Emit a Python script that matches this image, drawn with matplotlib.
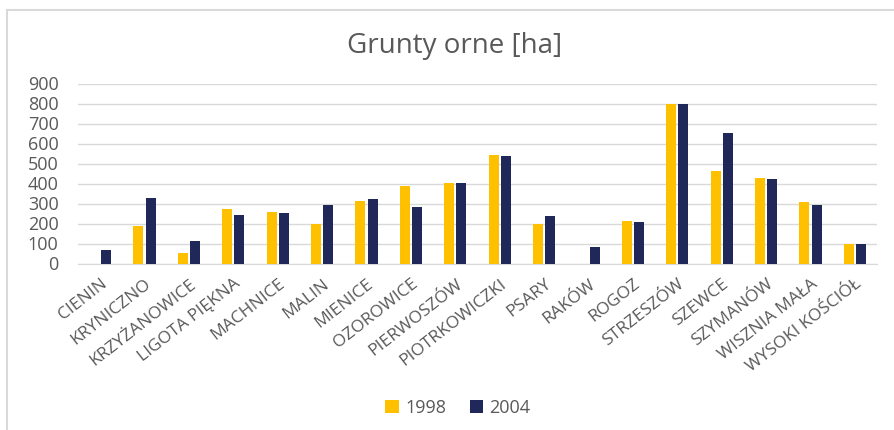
import matplotlib
matplotlib.use("Agg")
from matplotlib import pyplot as plt
from matplotlib.patches import Rectangle
import numpy as np

# data (hectares)
villages = ["CIENIN", "KRYNICZNO", "KRZYŻANOWICE", "LIGOTA PIĘKNA", "MACHNICE",
            "MALIN", "MIENICE", "OZOROWICE", "PIERWOSZÓW", "PIOTRKOWICZKI",
            "PSARY", "RAKÓW", "ROGOZ", "STRZESZÓW", "SZEWCE", "SZYMANÓW",
            "WISZNIA MAŁA", "WYSOKI KOŚCIÓŁ"]
values_1998 = [0, 187, 53, 273, 257, 197, 315, 390, 403, 545,
               200, 0, 213, 800, 462, 427, 310, 97]
values_2004 = [67, 330, 115, 243, 253, 292, 325, 282, 403, 536,
               240, 83, 208, 800, 652, 423, 295, 97]
y_ticks = [0, 100, 200, 300, 400, 500, 600, 700, 800, 900]

yellow = "#FFC000"
navy = "#1F2859"
grey_text = "#595959"

plt.rcParams['font.family'] = ['Open Sans', 'DejaVu Sans']

fig = plt.figure(figsize=(8.95, 4.3), dpi=100)
# chart area frame like the Excel export (runs off the right and bottom edges)
fig.patches.append(Rectangle((7 / 895, -0.05), 1.0, 1 - 10 / 430 + 0.05,
                             transform=fig.transFigure, fill=False,
                             edgecolor="#D9D9D9", linewidth=1.5))

ax = fig.add_axes([78 / 895, 1 - 263.5 / 430, 799 / 895, 180 / 430])

x = np.arange(len(villages))
w = 0.225
ax.bar(x - w / 2 - 0.025, values_1998, width=w, color=yellow, label="1998", zorder=3)
ax.bar(x + w / 2 + 0.025, values_2004, width=w, color=navy, label="2004", zorder=3)

ax.set_xlim(-0.5, len(villages) - 0.5)
ax.set_ylim(0, 900)
ax.set_yticks(y_ticks)
ax.yaxis.grid(True, color="#D9D9D9", linewidth=1, zorder=0)
for side in ["top", "right", "left"]:
    ax.spines[side].set_visible(False)
ax.spines["bottom"].set_color("#D9D9D9")

ax.tick_params(axis="y", length=0, pad=14, labelsize=13, labelcolor=grey_text)
ax.tick_params(axis="x", length=0, pad=9)
ax.set_xticks(x)
ax.set_xticklabels(villages, rotation=38, ha="right", va="top",
                   rotation_mode="anchor", fontsize=12.5, color=grey_text)

fig.text(455 / 895, 1 - 53 / 430, "Grunty orne [ha]", ha="center", va="baseline",
         fontsize=20, color=grey_text)

fig.legend(loc="center", bbox_to_anchor=(458 / 895, 1 - 408 / 430), ncol=2,
           frameon=False, handlelength=0.75, handleheight=0.75, handletextpad=0.35,
           columnspacing=1.3, prop={"size": 13}, labelcolor=grey_text)

fig.savefig("out.png", dpi=100)
